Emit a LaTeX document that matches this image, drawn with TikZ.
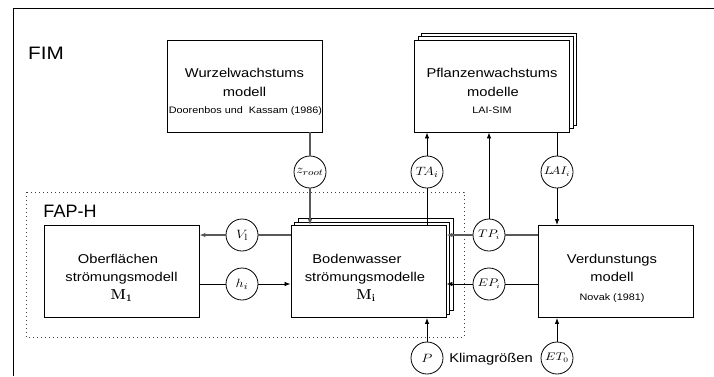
\documentclass[tikz,border=0pt]{standalone}
\usepackage[no-math]{fontspec}
\setmainfont{Liberation Sans}
\usepackage{graphicx}
\usetikzlibrary{arrows.meta}

% horizontally widened text
\newcommand\hs[1]{\scalebox{1.15}[1]{#1}}
\newcommand\hm[1]{\scalebox{1.2}[1]{#1}}

\begin{document}
\begin{tikzpicture}[x=1pt,y=-1pt,
  box/.style={draw, line width=0.9pt, fill=white, minimum width=155pt,
              minimum height=92pt, inner sep=0pt},
  circ/.style={circle, draw, line width=0.8pt, fill=white,
               minimum size=32pt, inner sep=0pt},
  big/.style={font=\fontsize{12.8}{15}\selectfont, inner sep=0pt, anchor=base},
  small/.style={font=\fontsize{9.4}{11}\selectfont, inner sep=0pt, anchor=base},
  head/.style={font=\fontsize{18}{21}\selectfont, inner sep=0pt, anchor=base},
  mlbl/.style={font=\fontsize{12.5}{14}\selectfont, inner sep=0pt},
  slbl/.style={font=\fontsize{10.5}{12}\selectfont, inner sep=0pt},
  wire/.style={line width=0.8pt},
  soft/.style={draw=black!65, line width=1.1pt},
  arr/.style={-{Latex[length=6pt,width=4.5pt]}},
]
\useasboundingbox (0,0) rectangle (714,376);

% outer frame (top and left edges)
\draw[line width=1pt] (13,376) -- (13,8) -- (714,8);
\node[head] (fim) at (46,59.5) {\hs{FIM}};

% FAP-H group
\draw[dash pattern=on 0.9pt off 3.1pt, line width=0.9pt, black!75]
  (26,192) rectangle (464,337);
\node[head] (faph) at (70,217.5) {FAP-H};

% model boxes
\node[box] (wurzel) at (244.5,86) {};
\node[big]   at (244.5,77.5) {\hs{Wurzelwachstums}};
\node[big]   at (244.5,96.5) {\hs{modell}};
\node[small] at (245.5,113.5)  {\hs{Doorenbos und\ \ Kassam (1986)}};

\node[box] (pflanzB2) at (499,79) {};
\node[box] (pflanzB1) at (495.5,82.5) {};
\node[box] (pflanz)   at (492,86) {};
\node[big]   at (492,77.5) {\hs{Pflanzenwachstums}};
\node[big]   at (493,96.5) {\hs{modelle}};
\node[small] at (492,113.5)  {\hs{LAI-SIM}};

\node[box] (ober) at (121.5,271.5) {};
\node[big] at (118,263) {\hs{Oberflächen}};
\node[big] at (121.5,281) {\hs{strömungsmodell}};
\node[inner sep=0pt, anchor=base, font=\fontsize{14}{16}\selectfont]
  at (121.5,299.5) {$\mathbf{M_1}$};

\node[box] (bodenB2) at (375.5,264.5) {};
\node[box] (bodenB1) at (372,268) {};
\node[box] (boden)   at (368.5,271.5) {};
\node[big] at (357,263.5) {\hs{Bodenwasser}};
\node[big] at (365,281) {\hs{strömungsmodelle}};
\node[inner sep=0pt, anchor=base, font=\fontsize{14}{16}\selectfont]
  at (366,299) {$\mathbf{M}_\mathbf{i}$};

\node[box] (verd) at (615.5,271.5) {};
\node[big]   at (612,263) {\hs{Verdunstungs}};
\node[big]   at (612,281) {\hs{modell}};
\node[small] at (612,300.5) {\hs{Novak (1981)}};

% exchanged quantities
\node[circ, mlbl] (zroot) at (310,172) {\hm{$z_{root}$}};
\node[circ, mlbl] (ta)    at (427,172) {\hm{$T\!A_i$}};
\node[circ, slbl] (lai)   at (557,172) {\hm{$L\!AI_i$}};
\node[circ, mlbl] (vl)    at (242,235) {\hm{$V_\mathrm{l}$}};
\node[circ, mlbl] (hi)    at (242,284) {\hm{$h_i$}};
\node[circ, slbl] (tp)    at (489,235) {\hm{$TP_i$}};
\node[circ, slbl] (ep)    at (489,284) {\hm{$EP_i$}};
\node[circ, mlbl] (p)     at (427,358) {\hm{$P$}};
\node[circ, slbl] (et)    at (557,358) {\hm{$ET_0$}};
\node[big] (klima) at (491,362.5) {\hs{Klimagrößen}};

% connectors
\draw[wire, soft] (wurzel.south -| zroot) -- (zroot);
\draw[wire, soft, arr] (zroot) -- (zroot |- boden.north);

\draw[wire] (boden.north -| ta) -- (ta);
\draw[wire, arr] (ta) -- (ta |- pflanz.south);

\draw[wire] (pflanz.south -| lai) -- (lai);
\draw[wire, arr] (lai) -- (lai |- verd.north);

\draw[wire, arr] (tp) -- (tp |- pflanz.south);
\draw[wire, soft] (verd.west |- tp) -- (tp);
\draw[wire, soft, arr] (tp) -- (tp -| boden.east);

\draw[wire] (verd.west |- ep) -- (ep);
\draw[wire, arr] (ep) -- (ep -| boden.east);

\draw[wire, soft] (boden.west |- vl) -- (vl);
\draw[wire, soft, arr] (vl) -- (vl -| ober.east);

\draw[wire] (ober.east |- hi) -- (hi);
\draw[wire, arr] (hi) -- (hi -| boden.west);

\draw[wire, arr] (p) -- (p |- boden.south);
\draw[wire, arr] (et) -- (et |- verd.south);
\end{tikzpicture}
\end{document}
